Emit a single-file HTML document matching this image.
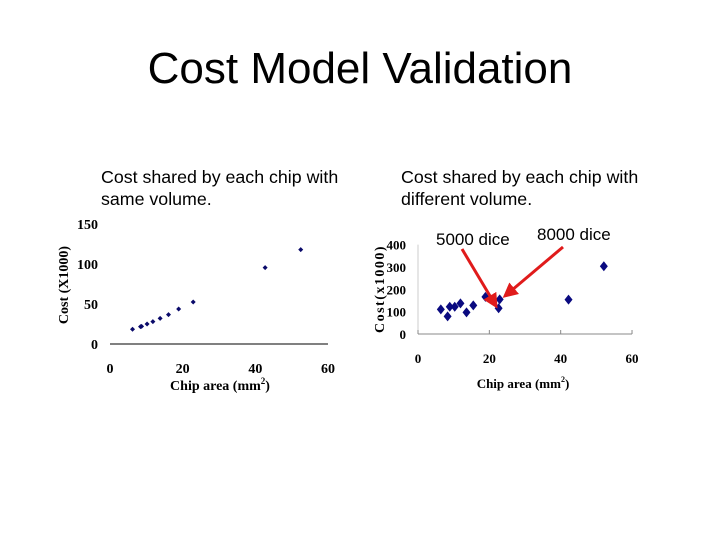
<!DOCTYPE html>
<html><head><meta charset="utf-8"><style>
body{margin:0;background:#fff;width:720px;height:540px;overflow:hidden}
svg text{font-family:"Liberation Serif",serif}
</style></head><body>
<svg width="720" height="540" id="s">
<text x="360" y="83" text-anchor="middle" font-size="44" style="font-family:'Liberation Sans',sans-serif">Cost Model Validation</text>
<text x="101" y="183" font-size="17.8" style="font-family:'Liberation Sans',sans-serif"><tspan x="101">Cost shared by each chip with</tspan><tspan x="101" dy="22">same volume.</tspan></text>
<text x="401" y="183" font-size="17.8" style="font-family:'Liberation Sans',sans-serif"><tspan x="401">Cost shared by each chip with</tspan><tspan x="401" dy="22">different volume.</tspan></text>
<g id="left"></g>
<g id="right"></g>
<text x="436" y="245" font-size="17" style="font-family:'Liberation Sans',sans-serif">5000 dice</text>
<text x="537" y="240" font-size="17" style="font-family:'Liberation Sans',sans-serif">8000 dice</text>
<defs><marker id="ah" markerWidth="5" markerHeight="5" refX="4" refY="2.5" orient="auto"><path d="M0,0L5,2.5L0,5z" fill="#e01b1b"/></marker></defs>
<line x1="462" y1="249" x2="496" y2="306" stroke="#e01b1b" stroke-width="3" marker-end="url(#ah)"/>
<line x1="563" y1="247" x2="505" y2="296" stroke="#e01b1b" stroke-width="3" marker-end="url(#ah)"/>
</svg>
<script>
const leftX=[6.2,8.4,8.7,10.2,11.8,13.8,16.1,18.9,22.9,42.7,52.5];
const leftY=[18.4,21.7,22,25,28,32,36.7,43.7,52.5,95.4,118];
const leftXTicks=[0,20,40,60];
const leftYTicks=[0,50,100,150];
const rightX=[6.4,8.3,8.9,10.3,11.9,13.6,15.5,18.9,22.6,22.9,42.2,52.1];
const rightY=[110,79,122,122,137,97,128,166,115,155,154,303];
const rightXTicks=[0,20,40,60];
const rightYTicks=[0,100,200,300,400];
const NS="http://www.w3.org/2000/svg";
function mk(p,t,a){const e=document.createElementNS(NS,t);for(const k in a)e.setAttribute(k,a[k]);p.appendChild(e);return e;}
// left
const L=document.getElementById('left');
const lx=v=>110+v*3.633, ly=v=>344-v*0.8;
let e=mk(L,'line',{x1:lx(0),y1:ly(0),x2:lx(60),y2:ly(0),stroke:'#000','stroke-width':1});


leftXTicks.forEach(t=>{const tx=mk(L,'text',{x:lx(t),y:373,'text-anchor':'middle','font-size':14,'font-weight':'bold'});tx.textContent=t;

});
leftYTicks.forEach(t=>{const tx=mk(L,'text',{x:98,y:ly(t)+5,'text-anchor':'end','font-size':14,'font-weight':'bold'});tx.textContent=t;

});
leftX.forEach((x,i)=>{const p=mk(L,'path',{d:`M${lx(x)},${ly(leftY[i])-2.5}l2.5,2.5l-2.5,2.5l-2.5,-2.5z`,fill:'#0a0a6a'});

});
e=mk(L,'text',{x:220,y:390,'text-anchor':'middle','font-size':14,'font-weight':'bold'});e.innerHTML='Chip area (mm<tspan dy="-6" font-size="9">2</tspan><tspan dy="6">)</tspan>';


e=mk(L,'text',{x:0,y:0,'text-anchor':'middle','font-size':14,'font-weight':'bold',transform:'translate(68,285) rotate(-90)'});e.textContent='Cost (X1000)';


// right
const R=document.getElementById('right');
const rx=v=>418+v*3.567, ry=v=>334-v*0.2235;
e=mk(R,'line',{x1:rx(0),y1:ry(0),x2:rx(60),y2:ry(0),stroke:'#888','stroke-width':1});


e=mk(R,'line',{x1:rx(0),y1:ry(0),x2:rx(0),y2:ry(400),stroke:'#ccc','stroke-width':1});


rightXTicks.forEach(t=>{const l=mk(R,'line',{x1:rx(t),y1:334,x2:rx(t),y2:330,stroke:'#888'});


const tx=mk(R,'text',{x:rx(t),y:363,'text-anchor':'middle','font-size':13,'font-weight':'bold'});tx.textContent=t;

});
rightYTicks.forEach(t=>{const tx=mk(R,'text',{x:406,y:ry(t)+5,'text-anchor':'end','font-size':13,'font-weight':'bold'});tx.textContent=t;

});
rightX.forEach((x,i)=>{const p=mk(R,'path',{d:`M${rx(x)},${ry(rightY[i])-5}l4,5l-4,5l-4,-5z`,fill:'#0a0a80'});

});
e=mk(R,'text',{x:523,y:388,'text-anchor':'middle','font-size':13,'font-weight':'bold'});e.innerHTML='Chip area (mm<tspan dy="-6" font-size="8">2</tspan><tspan dy="6">)</tspan>';


e=mk(R,'text',{x:0,y:0,'text-anchor':'middle','font-size':14,'font-weight':'bold',transform:'translate(384,289) rotate(-90)','letter-spacing':'1.5'});e.textContent='Cost(x1000)';


</script>
</body></html>
